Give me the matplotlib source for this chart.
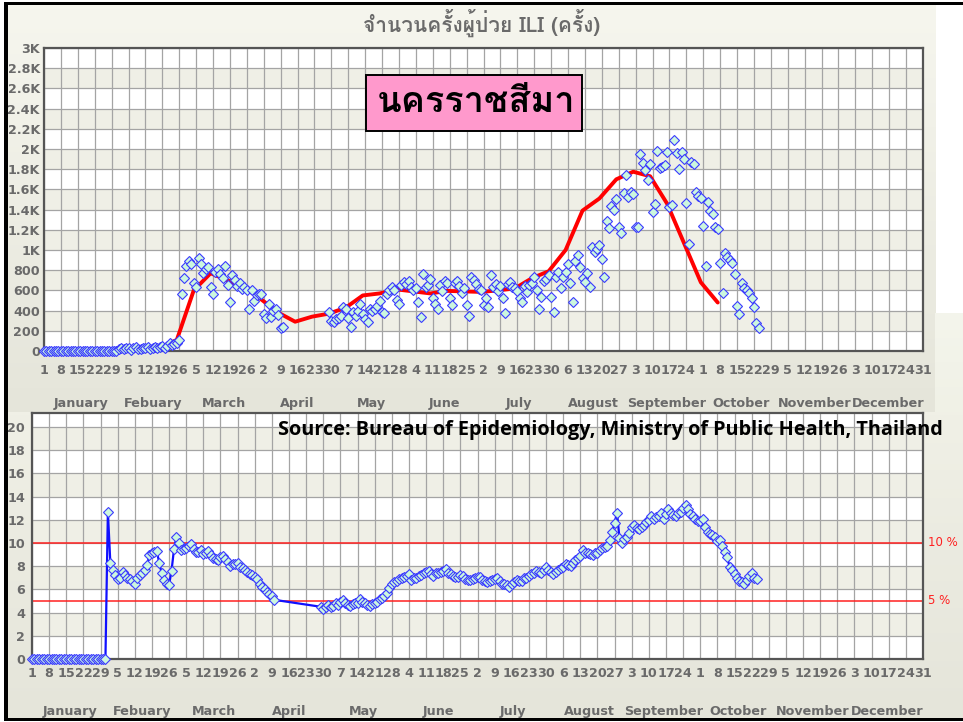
import numpy as np
import pandas as pd
import matplotlib
matplotlib.use('Agg')
import matplotlib.pyplot as plt
from matplotlib import font_manager
from matplotlib.ft2font import FT2Font
from matplotlib.colors import LinearSegmentedColormap
from matplotlib.patches import Rectangle
import matplotlib.transforms as mtransforms

# ---- data: daily ILI counts (top) and ILI percent (bottom), 2007 ----
jan_cases = [0, 0, 0, 0, 0, 0, 0, 0, 0, 0, 0, 0, 0, 0, 0, 0, 0, 0, 0, 0, 0, 0, 0, 0, 0, 0, 0, 0, 0, 0, 0]
feb_cases = [20, 25, 15, 30, 25, 10, 30, 35, 20, 15, 30, 25, 35, 20, 30, 40, 25, 35, 45, 30,
             50, 83, 60, 67, 83, 110, 567, 727]
mar_cases = [840, 893, 860, 673, 633, 917, 860, 773, 807, 833, 633, 560, 780, 807, 767, 720,
             840, 650, 490, 750, 700, 640, 673, 617, 633, 600, 417, 600, 500, 550, 560]
apr_days = [1, 2, 3, 4, 5, 6, 7, 8, 9, 10, 29, 30]
apr_cases = [567, 367, 327, 467, 333, 400, 420, 360, 227, 240, 383, 300]
may_cases = [283, 317, 327, 350, 433, 417, 327, 233, 383, 350, 400, 467, 367, 317, 283, 417,
             400, 417, 450, 500, 383, 373, 567, 600, 633, 600, 507, 467, 650, 683, 667]
jun_cases = [690, 633, 607, 620, 483, 340, 767, 633, 657, 710, 521, 470, 413, 653, 597, 696,
             677, 521, 455, 670, 690, 644, 571, 620, 455, 347, 729, 703, 663, 610]
jul_cases = [600, 455, 520, 432, 752, 637, 663, 590, 644, 521, 380, 663, 686, 637, 620, 590,
             521, 488, 644, 587, 650, 670, 736, 600, 413, 538, 696, 710, 752, 538, 389]
aug_cases = [736, 785, 620, 736, 785, 861, 670, 488, 894, 950, 835, 720, 686, 769, 637, 1026,
             983, 1006, 1049, 907, 736, 1290, 1214, 1435, 1396, 1501, 1231, 1165, 1560, 1742, 1521]
sep_cases = [1577, 1554, 1231, 1224, 1950, 1858, 1792, 1693, 1851, 1379, 1455, 1980, 1808, 1825,
             1841, 1973, 1422, 1445, 2089, 1957, 1798, 1973, 1897, 1468, 1059, 1874, 1851, 1577,
             1534, 1511]
oct_cases = [1237, 841, 1478, 1389, 1356, 1231, 1204, 868, 577, 967, 927, 901, 874, 762, 445,
             366, 670, 620, 604, 571, 520, 439, 281, 224]

# weekly average (red line), plotted on Sundays from Jan 7
week_avg = [0, 0, 0, 0, 15, 25, 35, 110, 600, 770, 700, 630, 510, 380, 290, 340, 370, 430,
            550, 570, 610, 590, 570, 595, 590, 585, 600, 620, 720, 790, 1000, 1390, 1510, 1700,
            1775, 1730, 1460, 1070, 680, 480]

jan_pct = [0, 0, 0, 0, 0, 0, 0, 0, 0, 0, 0, 0, 0, 0, 0, 0, 0, 0, 0, 0, 0, 0, 0, 0, 0, 0, 0, 0, 0, 0, 0]
feb_pct = [12.7, 8.3, 7.7, 7.2, 6.9, 7.0, 7.5, 7.2, 7.0, 6.9, 6.75, 6.5, 7.0, 7.2, 7.4, 7.7,
           8.1, 9.0, 9.1, 9.2, 9.3, 8.25, 7.4, 6.8, 6.5, 6.4, 7.6, 9.45]
mar_pct = [10.5, 10.0, 9.4, 9.5, 9.6, 9.7, 9.9, 9.45, 9.25, 9.25, 9.4, 9.05, 9.1, 9.3, 9.0, 8.7,
           8.6, 8.5, 8.8, 8.9, 8.6, 8.4, 8.0, 8.2, 8.2, 8.3, 7.9, 7.8, 7.7, 7.5, 7.3]
apr_pct = [7.2, 7.1, 6.9, 6.5, 6.2, 6.0, 5.8, 5.6, 5.4, 5.1, 4.5, 4.3]
may_pct = [4.5, 4.65, 4.45, 4.6, 4.8, 4.65, 4.9, 5.1, 4.8, 4.65, 4.6, 4.7, 4.8, 4.85, 5.15, 4.9,
           4.8, 4.65, 4.6, 4.7, 4.8, 4.95, 5.15, 5.3, 5.4, 5.66, 6.1, 6.5, 6.6, 6.75, 6.9]
jun_pct = [7.0, 7.1, 7.15, 7.3, 6.8, 7.0, 6.95, 7.15, 7.2, 7.4, 7.5, 7.6, 7.3, 7.15, 7.4, 7.45,
           7.5, 7.6, 7.75, 7.45, 7.3, 7.15, 7.1, 7.1, 7.2, 7.15, 6.9, 6.85, 6.8, 6.9]
jul_pct = [6.95, 7.05, 7.1, 6.8, 6.7, 6.65, 6.7, 6.8, 6.9, 7.0, 6.7, 6.5, 6.45, 6.4, 6.2, 6.5,
           6.6, 6.8, 6.7, 6.75, 6.95, 7.0, 7.15, 7.3, 7.4, 7.6, 7.5, 7.45, 7.7, 7.95, 7.7]
aug_pct = [7.5, 7.3, 7.5, 7.7, 7.8, 7.95, 8.2, 8.1, 8.0, 8.3, 8.5, 8.7, 8.9, 9.4, 9.15, 9.1,
           9.05, 8.95, 9.1, 9.15, 9.4, 9.55, 9.65, 9.75, 10.25, 10.97, 11.7, 12.6, 10.4, 9.97, 10.3]
sep_pct = [10.55, 10.9, 11.35, 11.55, 11.3, 11.2, 11.35, 11.55, 11.8, 12.0, 12.3, 12.05, 12.2,
           12.3, 12.55, 12.1, 12.5, 12.9, 12.6, 12.45, 12.3, 12.55, 12.7, 13.0, 13.3, 12.9, 12.5,
           12.3, 12.1, 11.9]
oct_pct = [11.85, 12.1, 11.4, 10.97, 10.8, 10.7, 10.55, 10.2, 10.25, 9.7, 9.25, 8.75, 7.95, 7.7,
           7.3, 6.95, 6.7, 6.6, 6.5, 6.8, 7.15, 7.4, 7.0, 6.9]

month_names = ['January', 'Febuary', 'March', 'April', 'May', 'June', 'July', 'August',
               'September', 'October', 'November', 'December']
title_text = 'จำนวนครั้งผู้ป่วย ILI (ครั้ง)'
province = 'นครราชสีมา'
source_text = 'Source: Bureau of Epidemiology, Ministry of Public Health, Thailand'
thresholds = [10, 5]


def doy(month, days):
    return [pd.Timestamp(2007, month, d).dayofyear - 1 for d in days]


def thai_family():
    for f in font_manager.fontManager.ttflist:
        try:
            if 0x0E19 in FT2Font(f.fname).get_charmap():
                return f.name
        except Exception:
            pass
    return 'DejaVu Sans'


THAI = thai_family()

month_cases = [jan_cases, feb_cases, mar_cases, None, may_cases, jun_cases, jul_cases,
               aug_cases, sep_cases, oct_cases]
month_pct = [jan_pct, feb_pct, mar_pct, None, may_pct, jun_pct, jul_pct, aug_pct, sep_pct, oct_pct]
x_days, y_cases, y_pct = [], [], []
for m in range(10):
    if m == 3:
        x_days += doy(4, apr_days)
        y_cases += apr_cases
        y_pct += apr_pct
    else:
        x_days += doy(m + 1, range(1, len(month_cases[m]) + 1))
        y_cases += month_cases[m]
        y_pct += month_pct[m]

week_days = np.arange(6, 6 + 7 * len(week_avg), 7)
tick_dates = pd.date_range('2007-01-01', '2007-12-31', freq='7D')
tick_pos = [d.dayofyear - 1 for d in tick_dates]
tick_lab = [str(d.day) for d in tick_dates]
month_mid = [(pd.Timestamp(2007, m, 1).dayofyear - 1 + pd.Timestamp(2007, m, 1).days_in_month / 2)
             for m in range(1, 13)]

# ---- figure ----
W, H = 963, 722
fig = plt.figure(figsize=(W / 100, H / 100), dpi=100)
fig.patch.set_facecolor('white')


def rect(x0, y0, x1, y1):
    return [x0 / W, 1 - y1 / H, (x1 - x0) / W, (y1 - y0) / H]


def panel(x0, y0, x1, y1, c1, c2):
    bg = fig.add_axes(rect(x0, y0, x1, y1), zorder=-10)
    cmap = LinearSegmentedColormap.from_list('bg', [c1, c2])
    bg.imshow(np.linspace(0, 1, 100).reshape(-1, 1), aspect='auto', cmap=cmap,
              extent=(0, 1, 0, 1))
    bg.axis('off')


panel(8, 5, 935, 412, '#f6f6ee', '#e5e5da')
panel(935, 313, 963, 412, '#f4f5ec', '#f0f1e6')
panel(8, 412, 963, 719, '#f0f0e6', '#e5e5da')

for x0, y0, x1, y1 in [(4, 2, 8, 721), (4, 2, 963, 5), (4, 718, 963, 721)]:
    fig.add_artist(Rectangle((x0 / W, 1 - y1 / H), (x1 - x0) / W, (y1 - y0) / H,
                             transform=fig.transFigure, color='black', lw=0))

label_kw = dict(family='DejaVu Sans', weight='bold', size=9.2, color='#6a6a6a')


def style_axes(ax, ymax, step, bands):
    ax.set_facecolor('white')
    for i in range(bands):
        if i % 2 == 1:
            ax.axhspan(i * step, (i + 1) * step, color='#efefe6', zorder=0.2, lw=0)
    ax.set_xlim(0, 364)
    ax.set_ylim(0, ymax)
    ax.set_xticks(tick_pos)
    ax.set_xticklabels(tick_lab, **label_kw)
    ax.set_axisbelow(True)
    ax.grid(True, color='#a4a4a4', lw=0.9, zorder=0.5)
    for s in ax.spines.values():
        s.set_color('#555555')
        s.set_linewidth(1.6)
    ax.tick_params(length=0)
    return mtransforms.blended_transform_factory(ax.transData, ax.transAxes)


diamond = dict(marker='D', ms=4.6, mfc='#ccf7de', mec='#3b3bff', mew=0.8)

# top chart
ax1 = fig.add_axes(rect(44, 48, 923, 351))
tr1 = style_axes(ax1, 3000, 200, 15)
yt = np.arange(0, 3001, 200)
ax1.set_yticks(yt)
ax1.set_yticklabels([str(v) if v < 1000 else f'{v / 1000:g}K' for v in yt], **label_kw)
ax1.tick_params(axis='y', pad=3)
ax1.tick_params(axis='x', pad=9)
ax1.plot(week_days, week_avg, color='#ff0000', lw=2.8, zorder=3, solid_capstyle='round')
ax1.plot(x_days, y_cases, ls='none', zorder=4, clip_on=False, **diamond)
for mid, name in zip(month_mid, month_names):
    ax1.text(mid, -0.172, name, transform=tr1, ha='center', va='center', **label_kw)

fig.text(482 / W, 1 - 23 / H, title_text, ha='center', va='center',
         family=[THAI, 'DejaVu Sans'], weight='bold', size=15, color='#6a6a6a')

fig.add_artist(Rectangle((366 / W, 1 - 131 / H), 216 / W, 56 / H, transform=fig.transFigure,
                         facecolor='#ff99cc', edgecolor='black', lw=1.4))
fig.text(476 / W, 1 - 103 / H, province, ha='center', va='center',
         family=[THAI, 'DejaVu Sans'], weight='bold', size=26, color='black')

# bottom chart
ax2 = fig.add_axes(rect(32, 413, 923, 659))
tr2 = style_axes(ax2, 21.2, 2, 11)
yt2 = np.arange(0, 21, 2)
ax2.set_yticks(yt2)
ax2.set_yticklabels([str(v) for v in yt2], **label_kw)
ax2.tick_params(axis='y', pad=5)
ax2.tick_params(axis='x', pad=6)
for t in thresholds:
    ax2.axhline(t, color='#ff2020', lw=1.1, zorder=2)
    y_disp = ax2.transData.transform((0, t))[1]
    fig.text(928 / W, y_disp / H, f'{t} %', ha='left', va='center',
             family='DejaVu Sans', size=8.5, color='#ff2020')
ax2.plot(x_days, y_pct, color='#1010ff', lw=1.6, zorder=4, clip_on=False, **diamond)
for mid, name in zip(month_mid, month_names):
    ax2.text(mid, -0.215, name, transform=tr2, ha='center', va='center', **label_kw)

fig.text(278 / W, 1 - 430 / H, source_text, ha='left', va='center',
         family=['Open Sans', 'DejaVu Sans'], weight='bold', size=14.3, color='black')

fig.savefig('out.png', dpi=100)
